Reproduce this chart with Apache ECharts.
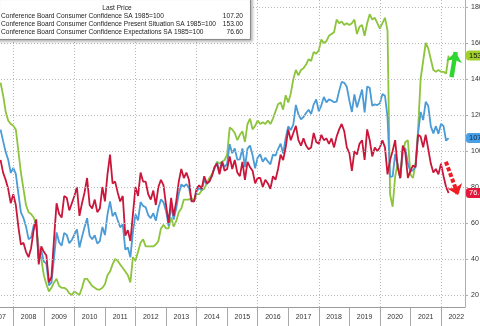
<!DOCTYPE html>
<html><head><meta charset="utf-8">
<script src="https://cdn.jsdelivr.net/npm/echarts@6/dist/echarts.min.js"></script>
<style>html,body{margin:0;padding:0;background:#fff}#c{width:480px;height:326px}</style>
</head><body><div id="c"></div>
<script>
// first observation: July 2007, monthly (plotted at month end)
const firstYear = 2007, firstMonth = 7;

const cci = [
  111.9,105.6,99.5,95.2,87.8,90.6,
  87.3,76.4,65.9,62.8,58.1,51.0,51.9,58.5,61.4,38.8,44.7,38.6,
  37.4,25.3,26.9,40.8,54.8,49.3,47.4,54.5,53.4,48.7,50.6,53.6,
  56.5,46.4,52.3,57.7,62.7,52.9,51.0,53.2,48.6,49.9,57.8,53.3,
  64.8,72.0,63.8,66.0,61.7,57.6,59.2,45.2,46.4,40.9,55.2,64.8,
  61.5,71.6,69.5,68.7,64.4,62.7,65.4,61.3,68.4,73.1,71.5,66.7,
  58.4,69.6,61.9,68.1,76.2,81.4,80.3,81.5,79.7,72.4,72.0,77.5,
  79.4,78.3,83.9,81.7,83.0,86.4,90.3,93.4,89.0,94.1,91.0,93.1,
  103.8,98.8,101.4,95.2,95.4,101.4,91.0,101.3,103.0,97.6,90.4,96.5,
  98.1,94.0,96.2,94.2,92.6,98.0,97.4,101.1,104.1,98.6,107.1,113.7,
  111.6,114.8,125.6,120.3,117.6,118.9,121.1,122.9,120.6,125.9,128.6,122.1,
  125.4,130.0,127.0,128.7,128.0,127.1,127.4,133.4,138.4,137.9,135.7,128.1,
  121.7,131.4,124.2,129.2,134.1,121.5,135.8,135.1,125.1,125.9,125.5,126.5,
  131.6,130.7,118.8,85.7,85.9,98.3,91.7,84.8,101.3,101.4,92.9,88.6,
  89.3,91.3,109.7,121.7,117.2,127.3,125.1,113.8,109.8,113.8,109.5,115.2,
  113.8,105.7,107.2
];
const presentSituation = [
  138,131,122,117,115,114,
  112,100,88,79,70,66,65,63,59,46,40,31,
  26,22,24,27,29,25,24,24,23,21,20,22,
  21,20,24,29,29,27,25,24,23,23,24,26,
  31,33,37,40,39,37,35,33,31,27,41,39,
  44,49,51,47,47,47,47,48,50,57,59,57,
  57,63,58,61,66,68,73,73,73,74,72,76,
  76,78,79,82,85,87,90,94,93,94,95,98,
  113,112,110,106,109,111,105,115,118,112,114,117,
  115,116,115,117,115,118,122,126,127,123,131,127,
  132,140,145,142,145,146,148,151,150,155,154,156,
  162,160,161,164,165,166,173,171,172,170,171,170,
  171,173,165,169,170,164,171,176,173,174,171,168,
  171,174,167,76,69,86,93,85,99,105,106,87,
  85,93,112,140,150,160,157,151,145,144,145,144,
  144,143,153
];
const expectations = [
  95,88,84,79,71,76,
  70,58,48,49,44,41,46,56,62,37,47,44,
  42,27,30,51,71,65,63,75,74,67,71,75,
  80,64,71,77,85,70,68,73,66,68,80,72,
  87,98,82,83,77,72,75,53,56,50,65,80,
  75,88,83,83,76,73,78,70,80,84,81,70,
  60,74,64,72,83,90,85,88,84,72,72,79,
  81,79,86,82,83,86,91,93,87,94,89,90,
  97,90,95,88,86,94,84,94,91,89,82,85,
  85,80,84,82,79,86,84,90,98,95,102,112,
  106,110,114,106,103,107,103,101,102,110,105,104,
  109,106,107,104,107,102,108,112,115,111,102,99,
  89,100,98,104,106,95,112,106,97,102,100,102,
  106,102,87,95,100,106,91,85,103,99,85,89,
  92,91,109,108,102,109,101,93,88,90,87,93,
  86,80,76.6
];

const seriesNames = [
  'Conference Board Consumer Confidence SA 1985=100',
  'Conference Board Consumer Confidence Present Situation SA 1985=100',
  'Conference Board Consumer Confidence Expectations SA 1985=100'
];
const yTicks = [20,40,60,80,100,120,140,160,180];
const yearBounds = [2008,2009,2010,2011,2012,2013,2014,2015,2016,2017,2018,2019,2020,2021,2022];
const yearLabels = [2007,2008,2009,2010,2011,2012,2013,2014,2015,2016,2017,2018,2019,2020,2021,2022];
const gridYears = [2008,2010,2012,2014,2016,2018,2020,2022];
// annotation arrows [x(year), value]
const upArrow = [[2022.345, 141], [2022.48, 155]];
const downArrow = [[2022.16, 94], [2022.56, 75.5]];

const toPoints = arr => arr.map((v, i) => [firstYear + (firstMonth + i) / 12, v]);
const last = arr => arr[arr.length - 1];

const FONT = '"Liberation Sans", Arial, sans-serif';
const colors = { cci: '#4a9bd6', ps: '#8cc43c', exp: '#c9163a' };

function tag(value, bg, fg) {
  return {
    yAxis: value, symbol: 'none',
    lineStyle: { color: 'rgba(0,0,0,0)', width: 0 },
    label: {
      show: true, position: 'end', distance: 1,
      formatter: value.toFixed(2),
      backgroundColor: bg, color: fg, fontSize: 7.5, fontFamily: FONT,
      padding: [1, 3, 1, 3], borderRadius: 3
    }
  };
}

const chart = echarts.init(document.getElementById('c'), null, { renderer: 'canvas' });
chart.setOption({
  animation: false,
  backgroundColor: '#fff',
  grid: { left: -2, right: 15, top: 0, bottom: 19, containLabel: false, outerBoundsMode: 'none' },
  xAxis: {
    type: 'value', min: 2007.5, max: 2022.786,
    axisLine: { show: true, lineStyle: { color: '#9a9a9a', width: 1 } },
    axisTick: { show: true, customValues: yearBounds, length: 19, lineStyle: { color: '#a8a8a8' } },
    axisLabel: {
      customValues: yearLabels.map(y => y + 0.5),
      formatter: v => String(Math.floor(v)),
      fontSize: 7, fontFamily: FONT, color: '#333', margin: 7
    },
    splitLine: { show: false }
  },
  yAxis: {
    type: 'value', position: 'right', min: 13.33, max: 183.89,
    axisLine: { show: true, lineStyle: { color: '#9fb2c4', width: 1 } },
    axisTick: { show: true, customValues: yTicks, length: 3, lineStyle: { color: '#9fb2c4' } },
    axisLabel: { customValues: yTicks, fontSize: 7, fontFamily: FONT, color: '#333', margin: 6 },
    splitLine: { show: false }
  },
  series: [
    {
      type: 'line', name: 'grid', data: [], z: 1, silent: true,
      markLine: {
        silent: true, symbol: ['none', 'none'], animation: false,
        label: { show: false },
        lineStyle: { color: '#b8b8b8', width: 1, type: [1, 2] },
        data: yTicks.map(v => ({ yAxis: v })).concat(gridYears.map(v => ({ xAxis: v })))
      }
    },
    {
      type: 'line', name: seriesNames[1], data: toPoints(presentSituation),
      showSymbol: false, symbol: 'none', z: 2,
      lineStyle: { color: colors.ps, width: 1.8 }, itemStyle: { color: colors.ps },
      markLine: {
        silent: true, symbol: ['none', 'none'], animation: false,
        data: [
          tag(last(presentSituation), '#a2d12c', '#111'),
          [
            { coord: upArrow[0], symbol: 'none', lineStyle: { color: '#2fd62f', width: 4.5, type: 'solid' }, label: { show: false } },
            { coord: upArrow[1], symbol: 'arrow', symbolSize: [12, 10] }
          ]
        ]
      }
    },
    {
      type: 'line', name: seriesNames[0], data: toPoints(cci),
      showSymbol: false, symbol: 'none', z: 3,
      lineStyle: { color: colors.cci, width: 1.8 }, itemStyle: { color: colors.cci },
      markLine: {
        silent: true, symbol: ['none', 'none'], animation: false,
        data: [tag(last(cci), '#4aa0e6', '#0b2a4a')]
      }
    },
    {
      type: 'line', name: seriesNames[2], data: toPoints(expectations),
      showSymbol: false, symbol: 'none', z: 4,
      lineStyle: { color: colors.exp, width: 1.8 }, itemStyle: { color: colors.exp },
      markLine: {
        silent: true, symbol: ['none', 'none'], animation: false,
        data: [
          tag(last(expectations), '#e3173b', '#fff'),
          [
            { coord: downArrow[0], symbol: 'none', lineStyle: { color: '#f01c24', width: 4, type: [4, 2] }, label: { show: false } },
            { coord: downArrow[1], symbol: 'arrow', symbolSize: [12, 10] }
          ]
        ]
      }
    }
  ],
  graphic: [
    {
      type: 'rect', z: 100, silent: true,
      shape: { x: -4, y: -4, width: 254.5, height: 43.5 },
      style: { fill: '#fff', stroke: '#8a8a8a', lineWidth: 1,
        shadowBlur: 3, shadowColor: 'rgba(0,0,0,0.35)', shadowOffsetX: 1.5, shadowOffsetY: 1.5 }
    },
    { type: 'text', z: 101, x: 117, y: 8, silent: true,
      style: { text: 'Last Price', fontSize: 6.6, fontFamily: FONT, fill: '#222', align: 'center', verticalAlign: 'middle' } },
    { type: 'text', z: 101, x: 1, y: 15.7, silent: true,
      style: { text: seriesNames[0], fontSize: 6.6, fontFamily: FONT, fill: '#222', align: 'left', verticalAlign: 'middle' } },
    { type: 'text', z: 101, x: 1, y: 23.8, silent: true,
      style: { text: seriesNames[1], fontSize: 6.6, fontFamily: FONT, fill: '#222', align: 'left', verticalAlign: 'middle' } },
    { type: 'text', z: 101, x: 1, y: 32, silent: true,
      style: { text: seriesNames[2], fontSize: 6.6, fontFamily: FONT, fill: '#222', align: 'left', verticalAlign: 'middle' } },
    { type: 'text', z: 101, x: 243, y: 15.7, silent: true,
      style: { text: last(cci).toFixed(2), fontSize: 6.6, fontFamily: FONT, fill: '#222', align: 'right', verticalAlign: 'middle' } },
    { type: 'text', z: 101, x: 243, y: 23.8, silent: true,
      style: { text: last(presentSituation).toFixed(2), fontSize: 6.6, fontFamily: FONT, fill: '#222', align: 'right', verticalAlign: 'middle' } },
    { type: 'text', z: 101, x: 243, y: 32, silent: true,
      style: { text: last(expectations).toFixed(2), fontSize: 6.6, fontFamily: FONT, fill: '#222', align: 'right', verticalAlign: 'middle' } }
  ]
});
</script>
</body></html>
